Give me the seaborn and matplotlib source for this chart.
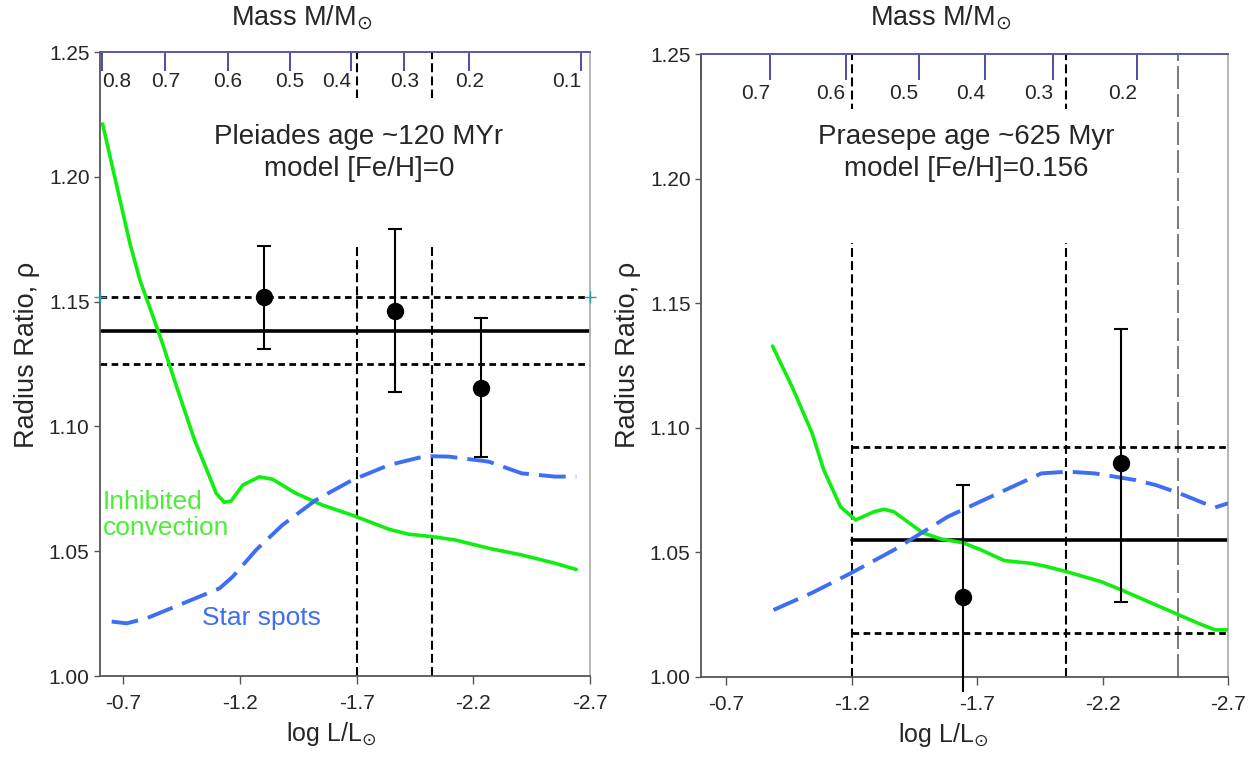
import numpy as np
import pandas as pd
import matplotlib
matplotlib.use("Agg")
import matplotlib.pyplot as plt
from matplotlib.patches import Rectangle
import seaborn as sns

# ---------------- data ----------------
# Pleiades panel
pl_conv_x = [-0.611, -0.728, -0.771, -0.863, -0.933, -1.005, -1.055, -1.098, -1.133, -1.162,
             -1.212, -1.283, -1.340, -1.439, -1.553, -1.691, -1.838, -1.923, -2.026, -2.122,
             -2.265, -2.407, -2.549, -2.641]
pl_conv_y = [1.2212, 1.1734, 1.1587, 1.1346, 1.1146, 1.0946, 1.0832, 1.0732, 1.0696, 1.0701,
             1.0765, 1.0798, 1.0788, 1.0732, 1.0685, 1.0641, 1.0588, 1.0568, 1.0558, 1.0545,
             1.0512, 1.0485, 1.0452, 1.0427]
pl_spot_x = [-0.650, -0.714, -0.799, -0.956, -1.112, -1.169, -1.269, -1.382, -1.525, -1.681,
             -1.838, -1.994, -2.094, -2.265, -2.407, -2.549, -2.641]
pl_spot_y = [1.0218, 1.0211, 1.0231, 1.0291, 1.0351, 1.0398, 1.0505, 1.0605, 1.0705, 1.0785,
             1.0845, 1.0881, 1.0879, 1.0859, 1.0812, 1.0799, 1.0799]
pl_pts_x = [-1.301, -1.866, -2.233]
pl_pts_y = [1.1517, 1.1462, 1.1155]
pl_err_lo = [0.0207, 0.0324, 0.0279]
pl_err_hi = [0.0206, 0.0329, 0.0278]
pl_mean = 1.1382
pl_band = [1.1517, 1.1250]
pl_vlines = [-1.70, -2.025]
pl_mass_pos = [-0.61, -0.880, -1.149, -1.414, -1.677, -1.905, -2.183, -2.663]
pl_mass_lab = ["0.8", "0.7", "0.6", "0.5", "0.4", "0.3", "0.2", "0.1"]

# Praesepe panel
pr_conv_x = [-0.885, -0.965, -1.043, -1.089, -1.156, -1.216, -1.289, -1.329, -1.369, -1.483,
             -1.556, -1.643, -1.716, -1.809, -1.916, -1.969, -2.056, -2.196, -2.276, -2.383,
             -2.489, -2.583, -2.649, -2.700]
pr_conv_y = [1.1328, 1.1160, 1.0978, 1.0831, 1.0683, 1.0630, 1.0663, 1.0673, 1.0663, 1.0579,
             1.0554, 1.0539, 1.0510, 1.0467, 1.0456, 1.0445, 1.0423, 1.0382, 1.0349, 1.0302,
             1.0256, 1.0215, 1.0189, 1.0189]
pr_spot_x = [-0.889, -1.043, -1.196, -1.369, -1.583, -1.769, -1.956, -2.063, -2.169, -2.333,
             -2.413, -2.507, -2.647, -2.700]
pr_spot_y = [1.0269, 1.0338, 1.0416, 1.0510, 1.0643, 1.0730, 1.0817, 1.0824, 1.0817, 1.0790,
             1.0770, 1.0737, 1.0680, 1.0697]
pr_pts_x = [-1.644, -2.273]
pr_pts_y = [1.0321, 1.0857]
pr_err_lo = [0.0380, 0.0556]
pr_err_hi = [0.0451, 0.0541]
pr_mean = 1.0548
pr_band = [1.0923, 1.0175]
pr_span = [-1.2, -2.7]
pr_vlines = [-1.2, -2.056]
pr_gray = -2.5
pr_mass_pos = [-0.6, -0.875, -1.176, -1.467, -1.731, -2.002, -2.339]
pr_mass_lab = ["", "0.7", "0.6", "0.5", "0.4", "0.3", "0.2"]

xlim = (-0.6, -2.7)
ylim = (1.00, 1.25)
xticks = [-0.7, -1.2, -1.7, -2.2, -2.7]
yticks = [1.00, 1.05, 1.10, 1.15, 1.20, 1.25]

# ---------------- style ----------------
sns.set_style("ticks")
plt.rcParams["font.family"] = ["Liberation Sans", "DejaVu Sans"]
plt.rcParams["mathtext.fontset"] = "dejavusans"

GREEN = "#10ee10"
GREEN_TXT = "#4ded3a"
BLUE = "#3d6ef5"
NAVY = "#1c1c8a"
DOT = (0, (2.4, 1.6))
DASH = (0, (4.3, 2.0))
SPOTDASH = (6.9, 2.6)

fig = plt.figure(figsize=(12.52, 7.57), dpi=100)
ax1 = fig.add_axes([100 / 1252, 81 / 757, 490 / 1252, 624 / 757])
ax2 = fig.add_axes([701 / 1252, 80 / 757, 527 / 1252, 623 / 757])


def base_axes(ax, mass_pos, mass_lab, mass_len, mass_pad, mass_ha, xlab_x, ylab_y):
    ax.set_xlim(*xlim)
    ax.set_ylim(*ylim)
    ax.set_xticks(xticks)
    ax.set_xticklabels([f"{t:.1f}" for t in xticks])
    ax.set_yticks(yticks)
    ax.set_yticklabels([f"{t:.2f}" for t in yticks])
    ax.tick_params(axis="x", direction="out", length=6, width=1, color="#555555",
                   labelsize=15, pad=7)
    ax.tick_params(axis="y", direction="out", length=4.5, width=1, color="#555555",
                   labelsize=15, pad=3)
    for s in ["left", "bottom"]:
        ax.spines[s].set_color("#555555")
        ax.spines[s].set_linewidth(1.3)
    ax.spines["right"].set_visible(True)
    ax.spines["right"].set_color("#b0b0b0")
    ax.spines["right"].set_linewidth(1.3)
    ax.spines["top"].set_visible(True)
    ax.spines["top"].set_color("#5a5aa8")
    ax.spines["top"].set_linewidth(1.3)
    ax.set_xlabel(r"log L/L$_{\odot}$", fontsize=18, labelpad=5)
    ax.xaxis.label.set_x(xlab_x)
    ax.set_ylabel(r"Radius Ratio, ρ", fontsize=19.5, labelpad=6)
    ax.yaxis.label.set_y(ylab_y)

    sec = ax.secondary_xaxis("top")
    sec.set_xticks(mass_pos)
    sec.set_xticklabels(mass_lab)
    sec.tick_params(direction="in", length=mass_len, width=1.1, color=NAVY,
                    labelsize=15, pad=mass_pad)
    sec.spines["top"].set_color("#5a5aa8")
    sec.spines["top"].set_linewidth(1.3)
    for lab, ha in zip(sec.get_xticklabels(), mass_ha):
        lab.set_ha(ha)
    return sec


# ---------------- Pleiades ----------------
pl_ha = ["left", "center", "center", "center", "right", "center", "center", "right"]
base_axes(ax1, pl_mass_pos, pl_mass_lab, 14, -28, pl_ha, 0.471, 0.514)

for v in pl_vlines:
    ax1.axvline(v, color="black", lw=1.5, linestyle=DASH, zorder=1)

ax1.axhline(pl_mean, color="black", lw=2.6, zorder=2)
ax1.plot([xlim[0], xlim[1]], [pl_band[0]] * 2, color="black", lw=2,
         linestyle=DOT, zorder=2)
ax1.plot([xlim[0], xlim[1]], [pl_band[0]] * 2, linestyle="none", marker="+",
         ms=9, mew=1, color="#2a9d9d", zorder=3, clip_on=False)
ax1.plot([xlim[0], xlim[1]], [pl_band[1]] * 2, color="black", lw=2,
         linestyle=DOT, zorder=2)

df = pd.DataFrame({"x": pl_conv_x, "y": pl_conv_y})
sns.lineplot(data=df, x="x", y="y", sort=False, color=GREEN, lw=2.6, ax=ax1, zorder=4)
df = pd.DataFrame({"x": pl_spot_x, "y": pl_spot_y})
sns.lineplot(data=df, x="x", y="y", sort=False, color=BLUE, lw=2.8, ax=ax1, zorder=4)
ax1.lines[-1].set_dashes(SPOTDASH)

ax1.errorbar(pl_pts_x, pl_pts_y, yerr=[pl_err_lo, pl_err_hi], fmt="o", color="black",
             ms=11.5, lw=1.5, capsize=5, capthick=1.5, zorder=5)

ax1.add_patch(Rectangle((0.226, 0.694), 0.61, 0.232, transform=ax1.transAxes,
                        facecolor="white", edgecolor="none", zorder=3))
ax1.text(-1.71, 1.2095, "Pleiades age ~120 MYr\nmodel [Fe/H]=0", ha="center", va="center",
         multialignment="center", fontsize=20, linespacing=1.32, zorder=6)
ax1.text(-0.613, 1.0745, "Inhibited\nconvection", ha="left", va="top", color=GREEN_TXT,
         fontsize=19, linespacing=1.12, zorder=6)
ax1.text(-1.291, 1.0232, "Star spots", ha="center", va="center", color=BLUE,
         fontsize=19, zorder=6)

# ---------------- Praesepe ----------------
pr_ha = ["center"] + ["right"] * 6
base_axes(ax2, pr_mass_pos, pr_mass_lab, 19, -35, pr_ha, 0.46, 0.517)

for v in pr_vlines:
    ax2.axvline(v, color="black", lw=1.5, linestyle=DASH, zorder=1)
ax2.axvline(pr_gray, color="#7a7a7a", lw=1.4, linestyle=(0, (11.8, 2.6)), zorder=1)

ax2.plot(pr_span, [pr_mean] * 2, color="black", lw=2.6, zorder=2)
for b in pr_band:
    ax2.plot(pr_span, [b] * 2, color="black", lw=2, linestyle=DOT, zorder=2)

df = pd.DataFrame({"x": pr_conv_x, "y": pr_conv_y})
sns.lineplot(data=df, x="x", y="y", sort=False, color=GREEN, lw=2.6, ax=ax2, zorder=4)
df = pd.DataFrame({"x": pr_spot_x, "y": pr_spot_y})
sns.lineplot(data=df, x="x", y="y", sort=False, color=BLUE, lw=2.8, ax=ax2, zorder=4)
ax2.lines[-1].set_dashes(SPOTDASH)

eb = ax2.errorbar(pr_pts_x, pr_pts_y, yerr=[pr_err_lo, pr_err_hi], fmt="o", color="black",
                  ms=11.5, lw=1.5, capsize=5, capthick=1.5, zorder=5)
for artist in eb.lines[2]:
    artist.set_clip_on(False)
eb.lines[1][0].set_markevery([1])

ax2.add_patch(Rectangle((0.226, 0.697), 0.55, 0.214, transform=ax2.transAxes,
                        facecolor="white", edgecolor="none", zorder=3))
ax2.text(-1.656, 1.2103, "Praesepe age ~625 Myr\nmodel [Fe/H]=0.156", ha="center",
         va="center", multialignment="center", fontsize=20, linespacing=1.32, zorder=6)

# top axis titles
fig.text(302 / 1252, 1 - 18 / 757, r"Mass M/M$_{\odot}$", ha="center", va="center",
         fontsize=19.5)
fig.text(941 / 1252, 1 - 18 / 757, r"Mass M/M$_{\odot}$", ha="center", va="center",
         fontsize=19.5)

fig.savefig("out.png", dpi=100, facecolor="white")
